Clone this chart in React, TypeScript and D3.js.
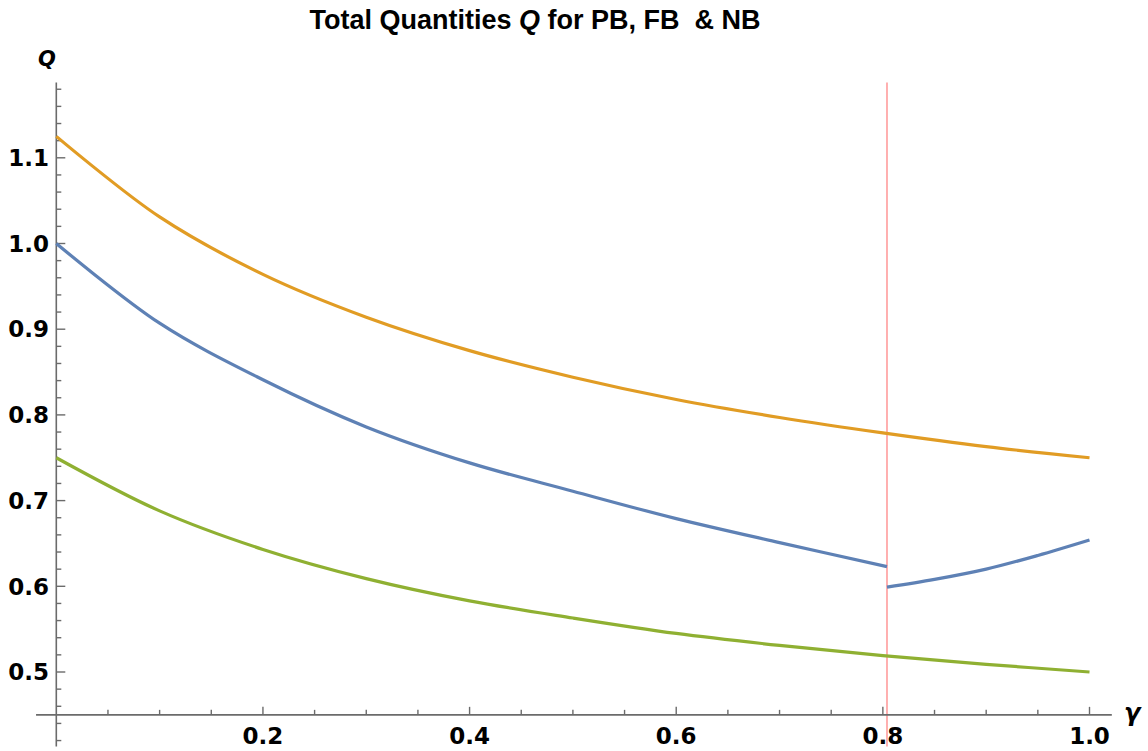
import React, { useEffect, useRef } from 'react';
import * as d3 from 'd3';

// values
const gammaGrid = [0, 0.1, 0.2, 0.3, 0.4, 0.5, 0.6, 0.7, 0.8, 0.9, 1.0];
const qOrange = [1.125, 1.031, 0.964, 0.914, 0.875, 0.844, 0.818, 0.797, 0.779, 0.763, 0.75];
const qGreen = [0.75, 0.688, 0.643, 0.609, 0.583, 0.563, 0.545, 0.531, 0.519, 0.509, 0.5];

const gammaBlueLow = [0, 0.1, 0.2, 0.3, 0.4, 0.5, 0.6, 0.7, 0.804];
const qBlueLow = [1.0, 0.907, 0.841, 0.786, 0.744, 0.711, 0.679, 0.651, 0.623];
const gammaBlueHigh = [0.804, 0.85, 0.9, 0.95, 1.0];
const qBlueHigh = [0.599, 0.608, 0.62, 0.636, 0.654];

const gammaThreshold = 0.804;

const xMajor = [0.2, 0.4, 0.6, 0.8, 1.0];
const yMajor = [0.5, 0.6, 0.7, 0.8, 0.9, 1.0, 1.1];

const App: React.FC = () => {
  const ref = useRef<SVGSVGElement>(null);

  useEffect(() => {
    const svg = d3.select(ref.current);
    svg.selectAll('*').remove();

    const x = d3.scaleLinear().domain([0, 1]).range([56.3, 1089.5]);
    const y = d3.scaleLinear().domain([0.5, 1.0]).range([672, 243.5]);
    const axisColor = '#6b6b6b';
    const tickFont = '"DejaVu Sans", sans-serif';

    // title
    svg.append('text')
      .attr('x', 535).attr('y', 29)
      .attr('text-anchor', 'middle')
      .attr('font-family', '"Liberation Sans", Arial, sans-serif')
      .attr('font-weight', 'bold')
      .attr('font-size', 27)
      .attr('fill', '#000')
      .call(t => {
        t.append('tspan').text('Total Quantities ');
        t.append('tspan').attr('font-style', 'italic').text('Q');
        t.append('tspan').text(' for PB, FB\u00a0 & NB');
      });

    // threshold line
    svg.append('line')
      .attr('x1', x(gammaThreshold)).attr('x2', x(gammaThreshold))
      .attr('y1', y(1.188)).attr('y2', y(0.4132))
      .attr('stroke', 'rgb(255,150,150)')
      .attr('stroke-width', 1.5);

    // y axis
    const yAxis = svg.append('g');
    yAxis.append('line')
      .attr('x1', x(0)).attr('x2', x(0))
      .attr('y1', y(1.188)).attr('y2', y(0.4132))
      .attr('stroke', axisColor).attr('stroke-width', 1.6);
    const yMinor = d3.range(21, 60).map(i => i * 0.02);
    yAxis.selectAll('line.minor')
      .data(yMinor)
      .enter()
      .append('line')
      .attr('class', 'minor')
      .attr('x1', x(0)).attr('x2', d => x(0) + (yMajor.some(m => Math.abs(m - d) < 1e-6) ? 9 : 5))
      .attr('y1', d => y(d)).attr('y2', d => y(d))
      .attr('stroke', axisColor).attr('stroke-width', 1.4);
    yAxis.selectAll('text')
      .data(yMajor)
      .enter()
      .append('text')
      .attr('x', 49)
      .attr('y', d => y(d))
      .attr('dy', '0.36em')
      .attr('text-anchor', 'end')
      .attr('font-family', tickFont)
      .attr('font-weight', 'bold')
      .attr('font-size', 23)
      .text(d => d.toFixed(1));

    // x axis
    const xAxis = svg.append('g');
    xAxis.append('line')
      .attr('x1', x(-0.0196)).attr('x2', x(1.0216))
      .attr('y1', y(0.45)).attr('y2', y(0.45))
      .attr('stroke', axisColor).attr('stroke-width', 1.6);
    const xMinor = d3.range(1, 21).map(i => i * 0.05);
    xAxis.selectAll('line.tick')
      .data(xMinor)
      .enter()
      .append('line')
      .attr('class', 'tick')
      .attr('x1', d => x(d)).attr('x2', d => x(d))
      .attr('y1', y(0.45))
      .attr('y2', d => y(0.45) - (xMajor.some(m => Math.abs(m - d) < 1e-6) ? 8 : 5))
      .attr('stroke', axisColor).attr('stroke-width', 1.4);
    xAxis.selectAll('text')
      .data(xMajor)
      .enter()
      .append('text')
      .attr('x', d => x(d))
      .attr('y', 744)
      .attr('text-anchor', 'middle')
      .attr('font-family', tickFont)
      .attr('font-weight', 'bold')
      .attr('font-size', 23)
      .text(d => d.toFixed(1));

    // axis labels
    svg.append('text')
      .attr('x', 47).attr('y', 66)
      .attr('text-anchor', 'middle')
      .attr('font-family', tickFont)
      .attr('font-weight', 'bold').attr('font-style', 'italic')
      .attr('font-size', 21)
      .text('Q');
    svg.append('text')
      .attr('x', 1124).attr('y', 721)
      .attr('font-family', tickFont)
      .attr('font-weight', 'bold').attr('font-style', 'italic')
      .attr('font-size', 24)
      .text('γ');

    // curves
    const line = d3.line<[number, number]>()
      .x(d => x(d[0]))
      .y(d => y(d[1]))
      .curve(d3.curveCatmullRom.alpha(0.5));

    const series: { g: number[]; q: number[]; color: string }[] = [
      { g: gammaGrid, q: qOrange, color: '#E19C24' },
      { g: gammaBlueLow, q: qBlueLow, color: '#5E81B5' },
      { g: gammaBlueHigh, q: qBlueHigh, color: '#5E81B5' },
      { g: gammaGrid, q: qGreen, color: '#8FB032' },
    ];

    svg.append('g')
      .selectAll('path')
      .data(series)
      .enter()
      .append('path')
      .attr('d', s => line(s.g.map((g, i) => [g, s.q[i]] as [number, number])))
      .attr('fill', 'none')
      .attr('stroke', s => s.color)
      .attr('stroke-width', 3.2);
  }, []);

  return (
    <div style={{ position: 'absolute', left: 0, top: 0 }}>
      <svg ref={ref} width={1148} height={751} style={{ display: 'block', background: '#fff' }} />
    </div>
  );
};

export default App;
